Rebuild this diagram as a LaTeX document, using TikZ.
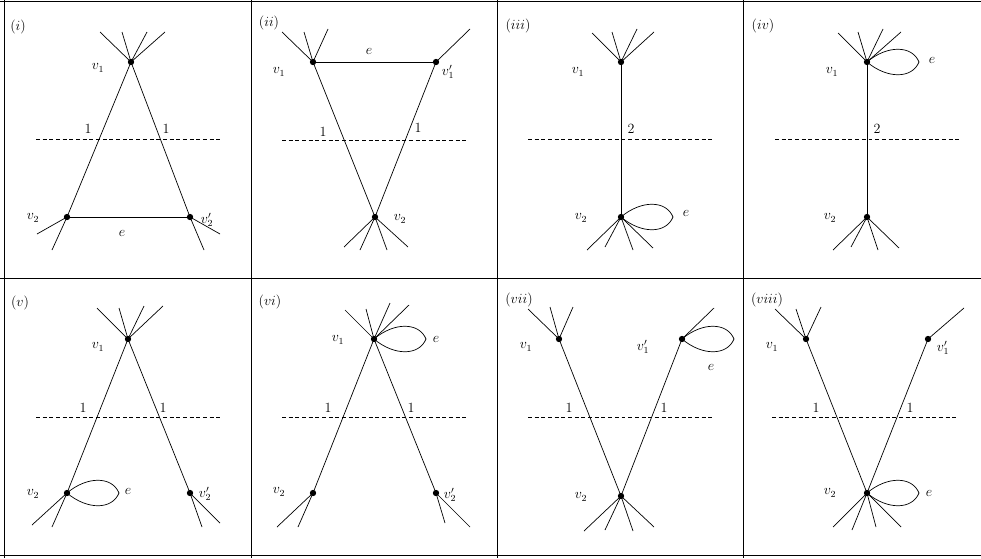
\documentclass[tikz,border=0pt]{standalone}
\usetikzlibrary{calc}
\newcommand\eloop[1]{\draw[edge] (#1.center) .. controls ($(#1.center)+(20,-17)$) and ($(#1.center)+(45,-17)$) .. ($(#1.center)+(52,0)$) .. controls ($(#1.center)+(45,17)$) and ($(#1.center)+(20,17)$) .. (#1.center);}
\newcommand\spokes[3]{\foreach \x/\y [count=\i] in {#3} {\coordinate (#2\i) at (\x,\y); \draw[edge] (#1.center) -- (#2\i);}}
\begin{document}
\begin{tikzpicture}[x=0.03cm,y=-0.03cm,
  dot/.style={circle,fill=black,inner sep=0pt,minimum size=0.19cm},
  edge/.style={line width=0.6pt},
  cut/.style={line width=0.55pt,dash pattern=on 3.4pt off 2.3pt},
  frame/.style={line width=0.8pt},
  lab/.style={inner sep=0pt,font=\fontsize{12}{14}\selectfont}]
\useasboundingbox (0,0) rectangle (981,558);
% frame
\draw[frame] (0,1) -- (981,1);
\draw[frame] (0,278) -- (981,278);
\draw[frame] (0,555) -- (981,555);
\draw[frame] (4.5,0) -- (4.5,558);
\draw[frame] (251,0) -- (251,558);
\draw[frame] (497,0) -- (497,558);
\draw[frame] (743,0) -- (743,558);

% ---------- (i)
\node[lab] (ti) at (18,27) {$(i)$};
\node[dot] (a1) at (131,62) {};
\node[dot] (a2) at (67,217) {};
\node[dot] (a3) at (190,217) {};
\node[lab] at (98,68) {$v_1$};
\node[lab] at (33,218) {$v_2$};
\node[lab] at (207,220) {$v_2'$};
\node[lab] at (122,233) {$e$};
\spokes{a1}{at}{100/32,122/32,147/32,165/32}
\coordinate (ab1) at (52,250); \coordinate (ab2) at (37,234);
\coordinate (ab3) at (204,250); \coordinate (ab4) at (220,234);
\draw[edge] (a1.center) -- (a2.center) -- (ab1);
\draw[edge] (a2.center) -- (ab2);
\draw[edge] (a1.center) -- (a3.center) -- (ab3);
\draw[edge] (a3.center) -- (ab4);
\draw[edge] (a2.center) -- (a3.center);
\coordinate (ad1) at (36,139); \coordinate (ad2) at (221,139);
\draw[cut] (ad1) -- (ad2);
\node[lab] at (88,129) {1};
\node[lab] at (166,129) {1};

% ---------- (ii)
\node[lab] (tii) at (269,23) {$(ii)$};
\node[dot] (b1) at (313,62) {};
\node[dot] (b3) at (436,62) {};
\node[dot] (b2) at (375,217) {};
\node[lab] at (279,72) {$v_1$};
\node[lab] at (448,72) {$v_1'$};
\node[lab] at (400,219) {$v_2$};
\node[lab] at (369,51) {$e$};
\spokes{b1}{bt}{282/32,304/32,328/29}
\spokes{b3}{bu}{470/29}
\spokes{b2}{bb}{344/247,360/250,387/250,408/247}
\draw[edge] (b1.center) -- (b3.center);
\draw[edge] (b1.center) -- (b2.center);
\draw[edge] (b3.center) -- (b2.center);
\coordinate (bd1) at (282,140); \coordinate (bd2) at (467,140);
\draw[cut] (bd1) -- (bd2);
\node[lab] at (323,132) {1};
\node[lab] at (418,128) {1};

% ---------- (iii)
\node[lab] (tiii) at (518,26) {$(iii)$};
\node[dot] (c1) at (621,62) {};
\node[dot] (c2) at (621,217) {};
\node[lab] at (578,72) {$v_1$};
\node[lab] at (581,218) {$v_2$};
\node[lab] at (686,213) {$e$};
\spokes{c1}{ct}{592/33,612/32,637/29,654/32}
\spokes{c2}{cb}{587/250,605/247,633/250,653/248}
\draw[edge] (c1.center) -- (c2.center);
\eloop{c2}
\coordinate (cd1) at (528,139); \coordinate (cd2) at (713,139);
\draw[cut] (cd1) -- (cd2);
\node[lab] at (631,129) {2};

% ---------- (iv)
\node[lab] (tiv) at (763,26) {$(iv)$};
\node[dot] (d1) at (867,62) {};
\node[dot] (d2) at (867,217) {};
\node[lab] at (832,72) {$v_1$};
\node[lab] at (830,218) {$v_2$};
\node[lab] at (932,60) {$e$};
\spokes{d1}{dt}{838/33,858/32,883/29,901/32}
\spokes{d2}{db}{833/250,851/247,878/250,899/248}
\draw[edge] (d1.center) -- (d2.center);
\eloop{d1}
\coordinate (dd1) at (775,139); \coordinate (dd2) at (960,139);
\draw[cut] (dd1) -- (dd2);
\node[lab] at (877,129) {2};

% ---------- (v)
\node[lab] (tv) at (20,303) {$(v)$};
\node[dot] (e1) at (128,339) {};
\node[dot] (e2) at (67,493) {};
\node[dot] (e3) at (190,493) {};
\node[lab] at (98,347) {$v_1$};
\node[lab] at (33,494) {$v_2$};
\node[lab] at (205,494) {$v_2'$};
\node[lab] at (128,491) {$e$};
\spokes{e1}{et}{97/308,119/308,144/306,163/306}
\coordinate (eb1) at (32,525); \coordinate (eb2) at (52,527);
\coordinate (eb3) at (220,523); \coordinate (eb4) at (202,527);
\draw[edge] (e1.center) -- (e2.center) -- (eb2);
\draw[edge] (e2.center) -- (eb1);
\draw[edge] (e1.center) -- (e3.center) -- (eb4);
\draw[edge] (e3.center) -- (eb3);
\eloop{e2}
\coordinate (ed1) at (36,417); \coordinate (ed2) at (221,417);
\draw[cut] (ed1) -- (ed2);
\node[lab] at (83,408) {1};
\node[lab] at (163,408) {1};

% ---------- (vi)
\node[lab] (tvi) at (270,302) {$(vi)$};
\node[dot] (f1) at (374,339) {};
\node[dot] (f2) at (313,493) {};
\node[dot] (f3) at (436,493) {};
\node[lab] at (338,340) {$v_1$};
\node[lab] at (279,492) {$v_2$};
\node[lab] at (450,495) {$v_2'$};
\node[lab] at (436,339) {$e$};
\spokes{f1}{ft}{345/310,366/309,390/303,409/305}
\coordinate (fb1) at (277,527); \coordinate (fb2) at (298,527);
\coordinate (fb3) at (470,527); \coordinate (fb4) at (445,523);
\draw[edge] (f1.center) -- (f2.center) -- (fb2);
\draw[edge] (f2.center) -- (fb1);
\draw[edge] (f1.center) -- (f3.center) -- (fb4);
\draw[edge] (f3.center) -- (fb3);
\eloop{f1}
\coordinate (fd1) at (282,417); \coordinate (fd2) at (467,417);
\draw[cut] (fd1) -- (fd2);
\node[lab] at (328,408) {1};
\node[lab] at (411,408) {1};

% ---------- (vii)
\node[lab] (tvii) at (519,300) {$(vii)$};
\node[dot] (g1) at (559,339) {};
\node[dot] (g3) at (682,339) {};
\node[dot] (g2) at (621,496) {};
\node[lab] at (526,347) {$v_1$};
\node[lab] at (643,347) {$v_1'$};
\node[lab] at (581,497) {$v_2$};
\node[lab] at (711,367) {$e$};
\spokes{g1}{gt}{528/309,550/307,573/307}
\spokes{g3}{gu}{714/308}
\spokes{g2}{gb}{584/531,605/530,633/531,654/527}
\draw[edge] (g1.center) -- (g2.center);
\draw[edge] (g3.center) -- (g2.center);
\eloop{g3}
\coordinate (gd1) at (528,417); \coordinate (gd2) at (713,417);
\draw[cut] (gd1) -- (gd2);
\node[lab] at (569,408) {1};
\node[lab] at (664,408) {1};

% ---------- (viii)
\node[lab] (tviii) at (767,300) {$(viii)$};
\node[dot] (h1) at (806,339) {};
\node[dot] (h3) at (928,339) {};
\node[dot] (h2) at (867,493) {};
\node[lab] at (772,347) {$v_1$};
\node[lab] at (943,348) {$v_1'$};
\node[lab] at (830,493) {$v_2$};
\node[lab] at (929,493) {$e$};
\spokes{h1}{ht}{775/309,796/309,821/307}
\spokes{h3}{hu}{964/308}
\spokes{h2}{hb}{833/527,852/530,876/527,901/527}
\draw[edge] (h1.center) -- (h2.center);
\draw[edge] (h3.center) -- (h2.center);
\eloop{h2}
\coordinate (hd1) at (772,417); \coordinate (hd2) at (957,417);
\draw[cut] (hd1) -- (hd2);
\node[lab] at (816,408) {1};
\node[lab] at (910,408) {1};
\end{tikzpicture}
\end{document}
